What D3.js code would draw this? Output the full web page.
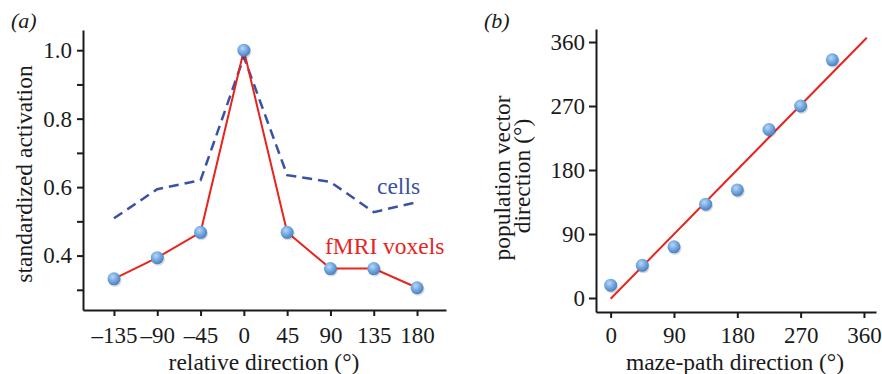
<!DOCTYPE html>
<html>
<head>
<meta charset="utf-8">
<script src="https://cdn.jsdelivr.net/npm/d3@7"></script>
<style>
  body { margin: 0; background: #fff; }
  svg { display: block; font-family: "Liberation Serif", "Times New Roman", serif; }
  .axis path, .axis line { stroke: #1a1a1a; stroke-width: 2; }
  .axis text { font-size: 23px; fill: #1a1a1a; font-family: "Liberation Serif", "Times New Roman", serif; }
  .title { font-size: 23.5px; fill: #1a1a1a; }
</style>
</head>
<body>
<svg id="chart" width="882" height="374"></svg>
<script>
// panel (a)
const relDir = [-135, -90, -45, 0, 45, 90, 135, 180];
const fmri = [0.332, 0.394, 0.468, 1.0, 0.468, 0.362, 0.362, 0.306];
const cells = [0.509, 0.594, 0.62, 0.98, 0.635, 0.615, 0.527, 0.556];
const relTicks = [-135, -90, -45, 0, 45, 90, 135, 180];
const actTicks = [0.3, 0.4, 0.5, 0.6, 0.7, 0.8, 0.9, 1.0];
const actLabels = [0.4, 0.6, 0.8, 1.0];

// panel (b)
const mazeDir = [0, 45, 90, 135, 180, 225, 270, 315];
const popVec = [18, 46, 72, 132, 152, 237, 270, 335];
const fitX = [0, 364];
const fitY = [-1, 366];
const degTicks = [0, 90, 180, 270, 360];

const svg = d3.select('#chart');

const defs = svg.append('defs');
const grad = defs.append('radialGradient').attr('id', 'dot')
  .attr('cx', '40%').attr('cy', '35%').attr('r', '65%');
grad.append('stop').attr('offset', '0%').attr('stop-color', '#b8d7f4');
grad.append('stop').attr('offset', '55%').attr('stop-color', '#72a7df');
grad.append('stop').attr('offset', '100%').attr('stop-color', '#4a80c2');

function dots(g, pts) {
  g.selectAll('circle.shadow').data(pts).enter().append('circle')
    .attr('class', 'shadow')
    .attr('cx', d => d[0] + 1).attr('cy', d => d[1] + 1.5).attr('r', 6.5)
    .attr('fill', 'rgba(0,0,0,0.15)');
  g.selectAll('circle.dot').data(pts).enter().append('circle')
    .attr('class', 'dot')
    .attr('cx', d => d[0]).attr('cy', d => d[1]).attr('r', 6.5)
    .attr('fill', 'url(#dot)');
}

// ---- panel (a) ----
const xA = d3.scaleLinear().domain([-167.2, 210.1]).range([83, 446]);
const yA = d3.scaleLinear().domain([0.241, 1.059]).range([310, 30]);

svg.append('g').attr('class', 'axis')
  .attr('transform', 'translate(0,310)')
  .call(d3.axisBottom(xA).tickValues(relTicks).tickSize(6).tickSizeOuter(0).tickPadding(4)
    .tickFormat(d => d < 0 ? '\u2013' + Math.abs(d) : d))
  .call(g => g.selectAll('text').attr('dy', '1em'));

svg.append('g').attr('class', 'axis')
  .attr('transform', 'translate(83,0)')
  .call(d3.axisLeft(yA).tickValues(actTicks).tickSize(6).tickSizeOuter(0).tickPadding(5)
    .tickFormat(d => actLabels.some(v => Math.abs(v - d) < 1e-6) ? d3.format('.1f')(d) : ''));

const lineA = d3.line().x(d => xA(d[0])).y(d => yA(d[1]));

svg.append('path')
  .datum(relDir.map((d, i) => [d, cells[i]]))
  .attr('d', lineA)
  .attr('fill', 'none').attr('stroke', '#3a52a3').attr('stroke-width', 2.5)
  .attr('stroke-dasharray', '10,6');

svg.append('path')
  .datum(relDir.map((d, i) => [d, fmri[i]]))
  .attr('d', lineA)
  .attr('fill', 'none').attr('stroke', '#e8241e').attr('stroke-width', 2);

dots(svg.append('g'), relDir.map((d, i) => [xA(d), yA(fmri[i])]));

svg.append('text').attr('x', 377).attr('y', 194)
  .style('font-size', '23.5px').attr('fill', '#3a52a3').text('cells');
svg.append('text').attr('x', 325).attr('y', 254)
  .style('font-size', '23.5px').attr('fill', '#e8241e').text('fMRI voxels');

svg.append('text').attr('class', 'title').attr('x', 264).attr('y', 370)
  .attr('text-anchor', 'middle').text('relative direction (°)');
svg.append('text').attr('class', 'title')
  .attr('transform', 'translate(32,174) rotate(-90)')
  .attr('text-anchor', 'middle').text('standardized activation');
svg.append('text').attr('x', 11).attr('y', 28)
  .style('font-size', '22px').style('font-style', 'italic').attr('fill', '#1a1a1a').text('(a)');

// ---- panel (b) ----
const xB = d3.scaleLinear().domain([-20.8, 377.1]).range([596, 876]);
const yB = d3.scaleLinear().domain([-19.7, 378.3]).range([312, 29]);

svg.append('g').attr('class', 'axis')
  .attr('transform', 'translate(0,312)')
  .call(d3.axisBottom(xB).tickValues(degTicks).tickSize(6).tickSizeOuter(0).tickPadding(4))
  .call(g => g.selectAll('text').attr('dy', '0.91em'));

svg.append('g').attr('class', 'axis')
  .attr('transform', 'translate(596,0)')
  .call(d3.axisLeft(yB).tickValues(degTicks).tickSize(7).tickSizeOuter(0).tickPadding(4));

svg.append('line')
  .attr('x1', xB(fitX[0])).attr('y1', yB(fitY[0]))
  .attr('x2', xB(fitX[1])).attr('y2', yB(fitY[1]))
  .attr('stroke', '#e8241e').attr('stroke-width', 2);

dots(svg.append('g'), mazeDir.map((d, i) => [xB(d), yB(popVec[i])]));

svg.append('text').attr('class', 'title').attr('x', 735).attr('y', 370)
  .attr('text-anchor', 'middle').text('maze-path direction (°)');
svg.append('text').attr('class', 'title')
  .attr('transform', 'translate(510,178) rotate(-90)')
  .attr('text-anchor', 'middle').text('population vector');
svg.append('text').attr('class', 'title')
  .attr('transform', 'translate(530,176) rotate(-90)')
  .attr('text-anchor', 'middle').text('direction (°)');
svg.append('text').attr('x', 484).attr('y', 28)
  .style('font-size', '22px').style('font-style', 'italic').attr('fill', '#1a1a1a').text('(b)');
</script>
</body>
</html>
